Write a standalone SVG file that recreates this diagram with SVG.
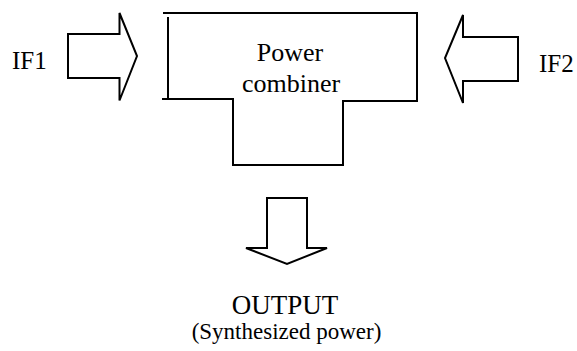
<svg xmlns="http://www.w3.org/2000/svg" width="577" height="351" viewBox="0 0 577 351">
<style>
.s{fill:none;stroke:#000;stroke-width:2;stroke-linejoin:miter}
text{font-family:'Liberation Serif','Times New Roman','DejaVu Serif',serif;fill:#000}
</style>
<rect width="577" height="351" fill="#fff"/>
<g id="if1">
<path class="s" d="M68,34 H119.5 V13 L137,56 L119.5,100.5 V78 H68 Z"/>
<text font-family="Liberation Serif, serif" x="12" y="69" font-size="25">IF1</text>
</g>
<g id="if2">
<path class="s" d="M518,37 H463 V15 L445,58 L463,103 V81 H518 Z"/>
<text font-family="Liberation Serif, serif" x="539" y="72" font-size="25">IF2</text>
</g>
<g id="combiner">
<path class="s" d="M163,13 H417 V101 H343 V165 H233 V99 H162"/>
<path class="s" d="M168,17 V99"/>
<text font-family="Liberation Serif, serif" x="290" y="61" font-size="26" text-anchor="middle">Power</text>
<text font-family="Liberation Serif, serif" x="291" y="92" font-size="26" text-anchor="middle">combiner</text>
</g>
<g id="output">
<path class="s" d="M267,198 H307 V248 H327 L287,264 L246,248 H267 Z"/>
<text font-family="Liberation Serif, serif" x="285" y="314" font-size="27" text-anchor="middle">OUTPUT</text>
<text font-family="Liberation Serif, serif" x="286.5" y="339" font-size="23" text-anchor="middle">(Synthesized power)</text>
</g>
<g id="connectors"/>
</svg>
